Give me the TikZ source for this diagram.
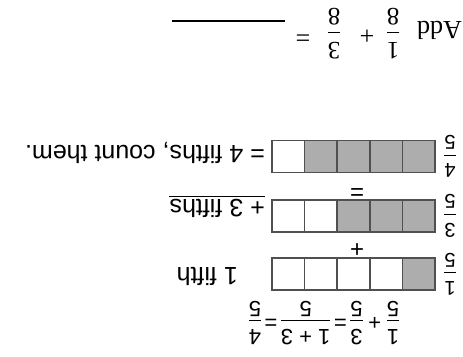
\documentclass[tikz,border=0pt]{standalone}
\usepackage{amsmath}
\usepackage{fontspec}
\setmainfont{Liberation Sans}
\newfontfamily\addfont{Liberation Serif}
\usetikzlibrary{positioning}
\definecolor{BarInk}{HTML}{505050}
\definecolor{BarShade}{HTML}{ADADAD}

\tikzset{
  cell/.style={draw=BarInk, line width=1.5pt, minimum width=32.6pt, minimum height=32pt, inner sep=0pt, outer sep=0pt},
  fifthtxt/.style={font=\fontsize{25}{28}\selectfont, inner sep=0pt, anchor=base west},
  sign/.style={font=\fontsize{20}{24}\selectfont, inner sep=0pt},
}
\newcommand{\fr}[2]{\dfrac{\text{#1}}{\text{#2}}}
\newcommand{\tplus}{\mathbin{\text{+}}}
\newcommand{\teq}{\mathrel{\text{=}}}

\begin{document}
\begin{tikzpicture}[x=1pt,y=1pt]
\useasboundingbox[fill=white] (0,0) rectangle (463,356);
\begin{scope}[rotate around={180:(231.5,178)}, transform shape]
  % worked example
  \node[sign, font=\fontsize{22}{24}\selectfont] (sum) at (139,323)
    {$\fr{1}{5}\tplus\fr{3}{5}\!\teq\!\fr{1 + 3}{5}\!\teq\!\fr{4}{5}$};
  % fifths bars
  \foreach \bar/\n/\y in {one/1/274, three/3/216, four/4/156.5}
    \foreach \i in {1,...,5} {
      \ifnum\i>\n \def\cellfill{white}\else\def\cellfill{BarShade}\fi
      \node[cell, fill=\cellfill] (\bar-\i) at ({28+32.6*(\i-0.5)},\y) {};
    }
  \node[sign, font=\fontsize{20}{22}\selectfont, left=8pt of one-1] (lab-one) {$\fr{1}{5}$};
  \node[sign, font=\fontsize{20}{22}\selectfont, left=8pt of three-1] (lab-three) {$\fr{3}{5}$};
  \node[sign, font=\fontsize{20}{22}\selectfont, left=8pt of four-1] (lab-four) {$\fr{4}{5}$};
  \node[sign, font=\fontsize{24}{26}\selectfont] (plus) at (106,248) {+};
  \node[sign, font=\fontsize{24}{26}\selectfont] (equals) at (106,190) {=};
  \node[fifthtxt] (txt-one) at (225,268) {1 fifth};
  \node[fifthtxt] (txt-three) at (198,200) {+ 3 fifths};
  \draw[line width=1.4pt] ([yshift=-3pt]txt-three.south west) -- ([yshift=-3pt]txt-three.south east);
  \node[fifthtxt] (txt-four) at (198,146) {= 4 fifths, count them.};
  % exercise
  \node[fifthtxt, font=\addfont\fontsize{26}{28}\selectfont] (add) at (1,22) {Add};
  \node[sign, font=\addfont\fontsize{25}{28}\selectfont] (fr-a) at (70,34) {$\fr{1}{8}$};
  \node[sign, font=\addfont\fontsize{26}{28}\selectfont] (add-plus) at (96,35) {+};
  \node[sign, font=\addfont\fontsize{25}{28}\selectfont] (fr-b) at (129,34) {$\fr{3}{8}$};
  \node[sign, font=\addfont\fontsize{26}{28}\selectfont] (add-eq) at (160,35) {=};
  \coordinate (blank-a) at (178,21);
  \coordinate (blank-b) at (291,21);
  \draw[line width=1.4pt] (blank-a) -- (blank-b);
\end{scope}
\end{tikzpicture}
\end{document}
